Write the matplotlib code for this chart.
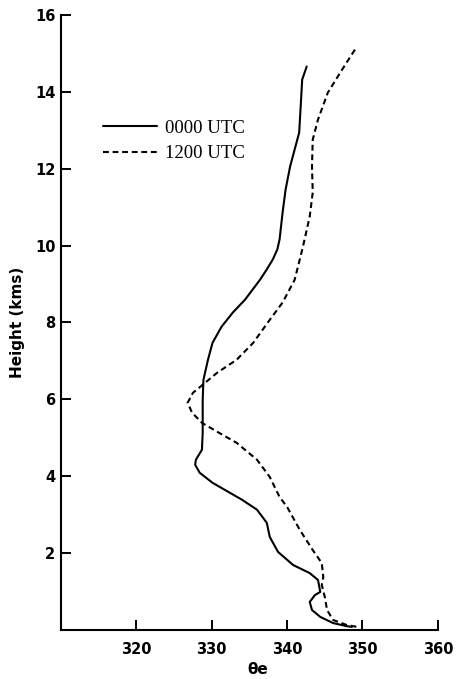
import matplotlib
matplotlib.use("Agg")
import matplotlib.pyplot as plt

# Equivalent potential temperature profiles (theta_e in K vs height in km)
theta_0000 = [342.6, 342.0, 341.8, 341.6, 341.0, 340.4, 339.8, 339.4, 339.0, 338.7,
              338.1, 337.3, 336.4, 334.4, 332.8, 331.3, 330.1, 329.5, 328.9, 328.8,
              328.8, 328.7, 327.9, 327.8, 328.4, 330.1, 332.4, 334.0, 336.0, 337.3,
              337.7, 338.8, 340.8, 343.0, 344.1, 344.4, 343.7, 343.0, 343.3, 344.4,
              346.1, 347.9, 348.6]
height_0000 = [14.66, 14.32, 13.62, 12.94, 12.50, 12.06, 11.46, 10.86, 10.16, 9.90,
               9.64, 9.38, 9.11, 8.59, 8.26, 7.89, 7.47, 7.03, 6.51, 5.99,
               5.13, 4.69, 4.43, 4.30, 4.09, 3.83, 3.57, 3.39, 3.13, 2.79,
               2.42, 2.03, 1.69, 1.48, 1.30, 0.99, 0.91, 0.73, 0.52, 0.34,
               0.18, 0.10, 0.08]

theta_1200 = [349.0, 347.3, 345.4, 344.1, 343.4, 343.3, 343.4, 343.0, 342.1, 341.0,
              339.4, 337.7, 335.5, 333.3, 330.7, 328.8, 327.5, 326.8, 327.4, 328.7,
              330.7, 333.3, 336.0, 337.7, 339.0, 340.0, 341.7, 343.4, 344.6, 344.8,
              344.6, 345.0, 345.3, 346.1, 347.9, 349.3]
height_1200 = [15.10, 14.58, 13.98, 13.28, 12.76, 12.06, 11.38, 10.76, 9.97, 9.11,
               8.52, 8.07, 7.47, 7.03, 6.69, 6.38, 6.17, 5.91, 5.65, 5.39,
               5.16, 4.87, 4.43, 3.98, 3.46, 3.20, 2.60, 2.08, 1.74, 1.38,
               1.17, 0.86, 0.52, 0.26, 0.13, 0.08]

x_ticks = [320, 330, 340, 350, 360]
y_ticks = [2, 4, 6, 8, 10, 12, 14, 16]

fig = plt.figure(figsize=(4.58, 6.79), dpi=100)
fig.patch.set_facecolor("white")
ax = fig.add_axes([0.1332, 0.0722, 0.8228, 0.9057])

ax.plot(theta_0000, height_0000, color="black", lw=1.5, solid_joinstyle="round",
        solid_capstyle="round", label="0000 UTC")
ax.plot(theta_1200, height_1200, color="black", lw=1.5, dashes=(2.8, 1.8),
        dash_joinstyle="round", label="1200 UTC")

ax.set_xlim(310, 360)
ax.set_ylim(0, 16)
ax.set_xticks(x_ticks)
ax.set_yticks(y_ticks)
ax.spines["top"].set_visible(False)
ax.spines["right"].set_visible(False)
ax.spines["left"].set_linewidth(1.5)
ax.spines["bottom"].set_linewidth(1.5)
ax.tick_params(direction="in", length=7, width=1.4, labelsize=10.5)
ax.tick_params(axis="x", pad=9)
ax.tick_params(axis="y", pad=4)
for lab in ax.get_xticklabels() + ax.get_yticklabels():
    lab.set_fontweight("bold")

ax.set_ylabel("Height (kms)", fontsize=11, fontweight="bold")
ax.yaxis.set_label_coords(-0.095, 0.5)
ax.set_xlabel("θe", fontsize=11, fontweight="bold")
ax.xaxis.set_label_coords(0.523, -0.052)

ax.legend(loc="upper left", bbox_to_anchor=(0.111, 0.830), frameon=False,
          prop={"family": "Liberation Serif", "size": 13.5},
          handlelength=2.9, handletextpad=0.4, labelspacing=0.45, borderpad=0,
          borderaxespad=0)

fig.savefig("out.png", dpi=100, facecolor="white")
